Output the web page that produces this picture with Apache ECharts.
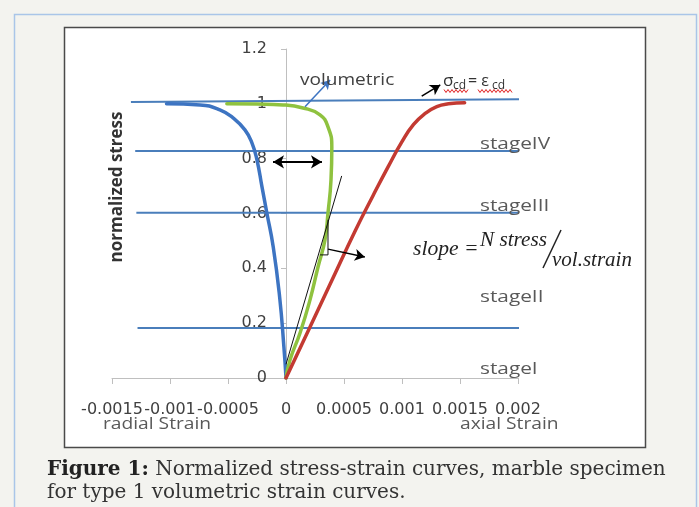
<!DOCTYPE html>
<html><head><meta charset="utf-8">
<script src="https://cdn.jsdelivr.net/npm/echarts@6/dist/echarts.min.js"></script>
<style>html,body{margin:0;padding:0;background:#f3f3ef}#c{width:699px;height:507px}</style>
</head><body><div id="c"></div>
<script>
// ---- data ----
const xTicks = [-0.0015, -0.001, -0.0005, 0, 0.0005, 0.001, 0.0015, 0.002];
const xTickLabels = ['-0.0015', '-0.001', '-0.0005', '0', '0.0005', '0.001', '0.0015', '0.002'];
const yTicks = [0, 0.2, 0.4, 0.6, 0.8, 1, 1.2];
const yTickLabels = ['0', '0.2', '0.4', '0.6', '0.8', '1', '1.2'];

// radial strain curve (blue): [strain, normalized stress]
const radialCurve = [[-0.00103, 1.0], [-0.00074, 0.996], [-0.00057, 0.978], [-0.000457, 0.949], [-0.000354, 0.905],
  [-0.000293, 0.857], [-0.00025, 0.795], [-0.000207, 0.697], [-0.000165, 0.602], [-0.00011, 0.478],
  [-0.000055, 0.296], [-0.000018, 0.113], [0, 0]];
// volumetric strain curve (green)
const volumetricCurve = [[-0.00051, 1.0], [-0.00025, 0.999], [-0.000026, 0.996], [0.000147, 0.985], [0.000293, 0.96],
  [0.000362, 0.916], [0.000395, 0.843], [0.000388, 0.723], [0.000362, 0.602], [0.000336, 0.504], [0.000276, 0.405],
  [0.000207, 0.285], [0.000121, 0.164], [0.0000345, 0.066], [0, 0]];
// axial strain curve (red)
const axialCurve = [[0, 0], [0.0002, 0.18], [0.0004, 0.36], [0.0006, 0.54], [0.00075, 0.665], [0.00088, 0.77],
  [0.001, 0.862], [0.0011, 0.925], [0.0012, 0.965], [0.0013, 0.99], [0.0014, 1.0], [0.00154, 1.004]];
// stage boundary lines
const stageLines = [
  [[-0.001337, 1.007], [0.0023, 1.018]],
  [[-0.0013, 0.828], [0.0023, 0.828]],
  [[-0.00129, 0.603], [0.0023, 0.603]],
  [[-0.00128, 0.182], [0.0023, 0.182]]
];
// tangent (slope) line and its right-angle marker
const tangentLine = [[0, 0.05], [0.00048, 0.737]];
const slopeMarker = [[0.000293, 0.449], [0.000362, 0.449], [0.000362, 0.577]];
// annotation arrows [from, to]
const arrowVolumetric = [[0.000164, 0.989], [0.00038, 1.087]];
const arrowDouble = [[-0.000112, 0.788], [0.00031, 0.788]];
const arrowSlope = [[0.000362, 0.47], [0.00068, 0.441]];
const arrowSigma = [[0.00117, 1.028], [0.00133, 1.069]];

// ---- chart ----
const chart = echarts.init(document.getElementById('c'), null, {renderer: 'canvas', width: 699, height: 507});
const BLUE = '#3d74c2', GREEN = '#8fc23f', RED = '#c33a32', STAGE = '#4a7ebb';
const axisFont = 'DejaVu Sans';
const X_MIN = -0.0015, X_MAX = 0.002, GRID_LEFT = 112, GRID_RIGHT = 181, W = 699;
const yAxisShift = (0 - X_MIN) / (X_MAX - X_MIN) * (W - GRID_LEFT - GRID_RIGHT); // put y axis at strain 0
function fmt(list, labels) {
  return v => { for (let i = 0; i < list.length; i++) if (Math.abs(list[i] - v) < 1e-9) return labels[i]; return ''; };
}
const series = [];
stageLines.forEach((d, i) => series.push({
  type: 'line', name: 'stage' + i, data: d, symbol: 'none', clip: false, silent: true, z: 2,
  lineStyle: {color: STAGE, width: 2}
}));
[[radialCurve, BLUE], [volumetricCurve, GREEN], [axialCurve, RED]].forEach(([d, c], i) => series.push({
  type: 'line', name: 'curve' + i, data: d, symbol: 'none', smooth: 0.5, silent: true, z: 4,
  lineStyle: {color: c, width: 3.5, cap: 'round', join: 'round'}
}));
function arrowItem(pair, color, width, size, both) {
  return [{coord: pair[0], symbol: both ? 'arrow' : 'none', symbolSize: size, lineStyle: {color, width, type: 'solid'}, itemStyle: {color}},
          {coord: pair[1], symbol: 'arrow', symbolSize: size, itemStyle: {color}}];
}
series.push({
  type: 'line', name: 'tangent', data: tangentLine, symbol: 'none', silent: true, z: 5,
  lineStyle: {color: '#111', width: 1},
  markLine: {
    silent: true, animation: false, label: {show: false}, emphasis: {disabled: true},
    data: [
      arrowItem(arrowVolumetric, BLUE, 1.5, [8, 9], false),
      arrowItem(arrowDouble, '#000', 2, [10, 11], true),
      arrowItem(arrowSlope, '#000', 1.5, [9, 10], false),
      arrowItem(arrowSigma, '#000', 1.5, [9, 10], false)
    ]
  }
});
series.push({
  type: 'line', name: 'marker', data: slopeMarker, symbol: 'none', silent: true, z: 5,
  lineStyle: {color: '#111', width: 1}
});

// wavy underline helper (spell-check squiggle decoration)
function wave(x0, x1, y) {
  const pts = []; let k = 0;
  for (let x = x0; x <= x1; x += 2, k++) pts.push([x, y + (k % 2 ? 1.5 : -1.5)]);
  return pts;
}
const txt = (x, y, text, font, fill, extra) => Object.assign({
  type: 'text', x, y, z: 100, silent: true,
  style: {text, font, fill, textAlign: 'left', textVerticalAlign: 'middle'}
}, extra || {});

const graphic = [
  {type: 'rect', z: -20, silent: true, shape: {x: 14.5, y: 14.5, width: 682, height: 520},
    style: {fill: '#f3f3ef', stroke: '#a9c5e8', lineWidth: 1.5}},
  {type: 'rect', z: -10, silent: true, shape: {x: 64.5, y: 27.5, width: 581, height: 420},
    style: {fill: '#ffffff', stroke: '#4a4a4a', lineWidth: 1.5}},
  txt(117, 187, 'normalized stress', 'bold 17px "Open Sans"', '#333', {rotation: Math.PI / 2, style: {text: 'normalized stress', font: 'bold 17px "Open Sans"', fill: '#333', textAlign: 'center', textVerticalAlign: 'middle'}}),
  txt(300, 80, 'volumetric', '17px "Open Sans"', '#404040', {scaleX: 1.12}),
  txt(480, 144, 'stageIV', '16px "Open Sans"', '#595959', {scaleX: 1.3}),
  txt(480, 206, 'stageIII', '16px "Open Sans"', '#595959', {scaleX: 1.3}),
  txt(480, 297, 'stageII', '16px "Open Sans"', '#595959', {scaleX: 1.3}),
  txt(480, 369, 'stageI', '16px "Open Sans"', '#595959', {scaleX: 1.3}),
  txt(103, 424, 'radial Strain', '16px "Open Sans"', '#595959', {scaleX: 1.2}),
  txt(460, 424, 'axial Strain', '16px "Open Sans"', '#595959', {scaleX: 1.2}),
  txt(413, 250, 'slope =', 'italic 20px "Liberation Serif"', '#222', {scaleX: 1.08}),
  txt(480, 241, 'N stress', 'italic 20px "Liberation Serif"', '#222', {scaleX: 1.06}),
  txt(552, 261, 'vol.strain', 'italic 20px "Liberation Serif"', '#222', {scaleX: 1.05}),
  {type: 'line', z: 100, silent: true, shape: {x1: 561, y1: 230, x2: 543, y2: 268}, style: {stroke: '#222', lineWidth: 1.5}},
  txt(443, 81, 'σ', '17px "Open Sans"', '#333'),
  txt(453, 86, 'cd', '12px "Open Sans"', '#333'),
  txt(468, 81, '= ε', '16px "Open Sans"', '#333'),
  txt(492, 86, 'cd', '12px "Open Sans"', '#333'),
  {type: 'polyline', z: 100, silent: true, shape: {points: wave(444, 468, 91)}, style: {stroke: '#e02020', lineWidth: 1, fill: null}},
  {type: 'polyline', z: 100, silent: true, shape: {points: wave(478, 512, 91)}, style: {stroke: '#e02020', lineWidth: 1, fill: null}},
  {type: 'text', x: 47, y: 470, z: 100, silent: true, style: {
    text: '{b|Figure 1:} Normalized stress-strain curves, marble specimen',
    font: '20px "DejaVu Serif"', fill: '#333', textAlign: 'left', textVerticalAlign: 'middle',
    rich: {b: {fontFamily: 'DejaVu Serif', fontWeight: 'bold', fontSize: 20, fill: '#222'}}}},
  txt(47, 493, 'for type 1 volumetric strain curves.', '20px "DejaVu Serif"', '#333')
];

chart.setOption({
  backgroundColor: '#f3f3ef',
  animation: false,
  grid: {left: GRID_LEFT, right: GRID_RIGHT, top: 49, bottom: 129, containLabel: false, outerBoundsMode: 'none'},
  xAxis: {
    type: 'value', min: X_MIN, max: X_MAX, interval: 0.0005,
    splitLine: {show: false},
    axisLine: {show: true, onZero: true, lineStyle: {color: '#bfbfbf', width: 1}},
    axisTick: {show: true, length: 6, lineStyle: {color: '#bfbfbf'}},
    axisLabel: {formatter: fmt(xTicks, xTickLabels), margin: 24, fontFamily: axisFont, fontSize: 16, color: '#404040', hideOverlap: false, showMinLabel: true, showMaxLabel: true}
  },
  yAxis: {
    type: 'value', min: 0, max: 1.2, interval: 0.2, offset: -yAxisShift,
    splitLine: {show: false},
    axisLine: {show: true, onZero: false, lineStyle: {color: '#bfbfbf', width: 1}},
    axisTick: {show: true, length: 5, lineStyle: {color: '#bfbfbf'}},
    axisLabel: {formatter: fmt(yTicks, yTickLabels), margin: 19, fontFamily: axisFont, fontSize: 16, color: '#404040', showMinLabel: true, showMaxLabel: true}
  },
  series,
  graphic
});
</script></body></html>
